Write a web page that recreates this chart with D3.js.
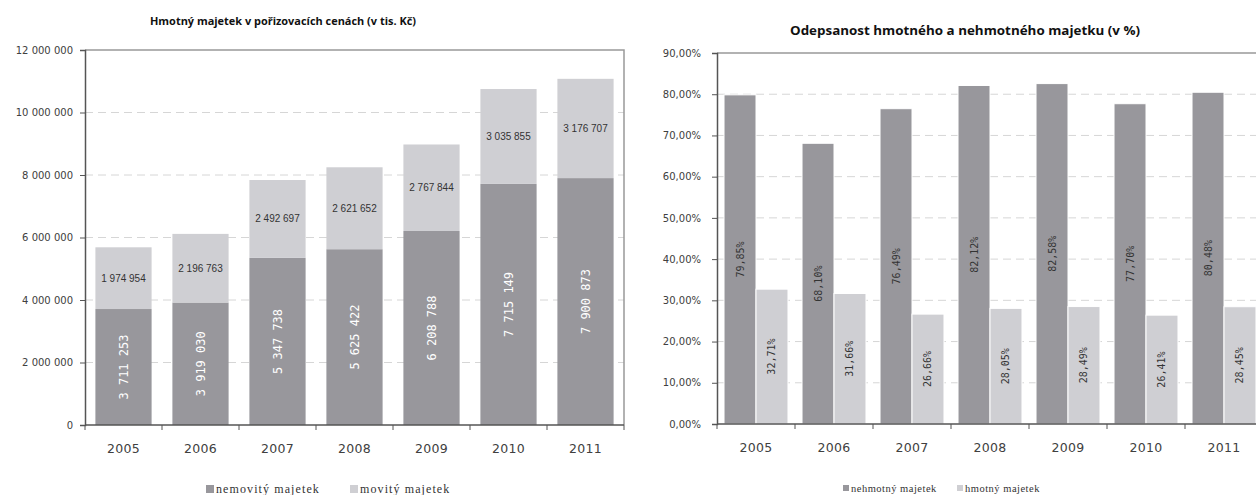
<!DOCTYPE html>
<html lang="cs">
<head>
<meta charset="UTF-8">
<title>Hmotný majetek a odepsanost</title>
<script src="https://d3js.org/d3.v7.min.js"></script>
<style>
  body { margin: 0; background: #fff; }
  .title { font-family: "Open Sans", sans-serif; font-weight: bold; fill: #111; }
  .tick text { font-family: "DejaVu Sans", sans-serif; fill: #404040; }
  .legend { font-family: "Liberation Serif", serif; fill: #333; }
</style>
</head>
<body>
<svg width="1256" height="495"></svg>
<script>
// data
const years = ["2005", "2006", "2007", "2008", "2009", "2010", "2011"];
const nemovity = [3711253, 3919030, 5347738, 5625422, 6208788, 7715149, 7900873];
const movity = [1974954, 2196763, 2492697, 2621652, 2767844, 3035855, 3176707];
const nehmotny = [79.85, 68.10, 76.49, 82.12, 82.58, 77.70, 80.48];
const hmotny = [32.71, 31.66, 26.66, 28.05, 28.49, 26.41, 28.45];
const leftTicks = [0, 2000000, 4000000, 6000000, 8000000, 10000000, 12000000];
const rightTicks = [0, 10, 20, 30, 40, 50, 60, 70, 80, 90];

const dark = "#98979c", light = "#cfcfd3";
const cz = d3.formatLocale({ decimal: ",", thousands: " ", grouping: [3], currency: ["", ""] });
const fmtNum = cz.format(",");
const fmtPct = d => cz.format(".2f")(d) + "%";

const svg = d3.select("svg");

// ---------- left chart: stacked bars ----------
const L = { left: 85, right: 624, top: 50, bottom: 425 };
const x1 = d3.scaleBand().domain(years).range([L.left, L.right]).paddingInner(0.27).paddingOuter(0.135);
const y1 = d3.scaleLinear().domain([0, 12000000]).range([L.bottom, L.top]);

const g1 = svg.append("g");

g1.append("text").attr("class", "title")
  .attr("x", 283).attr("y", 25)
  .attr("text-anchor", "middle")
  .style("font-size", "11px")
  .attr("textLength", 266).attr("lengthAdjust", "spacingAndGlyphs")
  .text("Hmotný majetek v pořizovacích cenách (v tis. Kč)");

g1.selectAll(".grid").data(leftTicks.slice(1, -1)).enter().append("line")
  .attr("x1", L.left).attr("x2", L.right)
  .attr("y1", d => y1(d)).attr("y2", d => y1(d))
  .attr("stroke", "#d6d6d6").attr("stroke-dasharray", "8,5");

// plot frame top/right
g1.append("path")
  .attr("d", `M${L.left},${L.top}H${L.right}V${L.bottom}`)
  .attr("fill", "none").attr("stroke", "#999").attr("stroke-width", 1.5);

const rows = years.map((y, i) => ({ year: y, nemovity: nemovity[i], movity: movity[i] }));
const stack = d3.stack().keys(["nemovity", "movity"])(rows);
const colors = { nemovity: dark, movity: light };

stack.forEach(layer => {
  g1.selectAll(".bar-" + layer.key).data(layer).enter().append("rect")
    .attr("x", d => x1(d.data.year))
    .attr("y", d => y1(d[1]))
    .attr("width", x1.bandwidth())
    .attr("height", d => y1(d[0]) - y1(d[1]))
    .attr("fill", colors[layer.key]);
});

// labels in dark segments (rotated, white)
g1.selectAll(".lblDark").data(stack[0]).enter().append("text")
  .attr("transform", d => `translate(${x1(d.data.year) + x1.bandwidth() / 2},${(y1(d[0]) + y1(d[1])) / 2}) rotate(-90)`)
  .attr("text-anchor", "middle").attr("dy", "0.35em")
  .style("font-family", "'DejaVu Sans Mono', monospace").style("font-size", "12px")
  .attr("fill", "#fff")
  .text(d => fmtNum(d.data.nemovity));

// labels in light segments
g1.selectAll(".lblLight").data(stack[1]).enter().append("text")
  .attr("x", d => x1(d.data.year) + x1.bandwidth() / 2)
  .attr("y", d => (y1(d[0]) + y1(d[1])) / 2)
  .attr("text-anchor", "middle").attr("dy", "0.35em")
  .style("font-family", "'Liberation Sans', Arial, sans-serif").style("font-size", "10px")
  .attr("fill", "#333")
  .text(d => fmtNum(d.data.movity));

const ax1 = g1.append("g").attr("transform", `translate(${L.left},0)`)
  .call(d3.axisLeft(y1).tickValues(leftTicks).tickSize(5).tickPadding(7).tickFormat(fmtNum));
ax1.selectAll("text").style("font-size", "10px");
ax1.select(".domain").attr("stroke", "#555").attr("stroke-width", 1.5);
ax1.selectAll(".tick line").attr("stroke", "#555");

function bottomAxis(g, x, yPos, right) {
  const b = g.append("g").attr("transform", `translate(0,${yPos})`)
    .call(d3.axisBottom(x).tickSize(0).tickPadding(19));
  b.selectAll("text").style("font-size", "12.5px").style("letter-spacing", "0.3px");
  b.select(".domain").attr("d", `M${x.range()[0]},0H${right}`).attr("stroke", "#555").attr("stroke-width", 1.5);
  const half = x.step() * x.paddingInner() / 2;
  const bounds = x.domain().map(d => x(d) - half).concat([x(x.domain()[x.domain().length - 1]) + x.bandwidth() + half]);
  b.selectAll(".btick").data(bounds).enter().append("line")
    .attr("x1", d => d).attr("x2", d => d).attr("y1", 0).attr("y2", 5)
    .attr("stroke", "#555");
}
bottomAxis(g1, x1, L.bottom, L.right);

// legend left
const legL = [{ name: "nemovitý majetek", c: dark, x: 206 }, { name: "movitý majetek", c: light, x: 350 }];
legL.forEach(d => {
  g1.append("rect").attr("x", d.x).attr("y", 485).attr("width", 8).attr("height", 8).attr("fill", d.c);
  g1.append("text").attr("class", "legend").attr("x", d.x + 10).attr("y", 493)
    .style("font-size", "12px").style("letter-spacing", "1.1px").text(d.name);
});

// ---------- right chart: grouped bars ----------
const R = { left: 717, right: 717 + 7 * 78, top: 53, bottom: 424 };
const x2 = d3.scaleBand().domain(years).range([R.left, R.right]).paddingInner(0.18).paddingOuter(0.09);
const sub = d3.scaleBand().domain(["nehmotny", "hmotny"]).range([0, x2.bandwidth()]);
const y2 = d3.scaleLinear().domain([0, 90]).range([R.bottom, R.top]);

const g2 = svg.append("g");

g2.append("text").attr("class", "title")
  .attr("x", 965).attr("y", 35)
  .attr("text-anchor", "middle")
  .style("font-size", "13px")
  .attr("textLength", 350).attr("lengthAdjust", "spacingAndGlyphs")
  .text("Odepsanost hmotného a nehmotného majetku (v %)");

g2.selectAll(".grid").data(rightTicks.slice(1, -1)).enter().append("line")
  .attr("x1", R.left).attr("x2", R.right)
  .attr("y1", d => y2(d)).attr("y2", d => y2(d))
  .attr("stroke", "#d6d6d6").attr("stroke-dasharray", "8,5");

g2.append("line")
  .attr("x1", R.left).attr("x2", R.right).attr("y1", R.top).attr("y2", R.top)
  .attr("stroke", "#999").attr("stroke-width", 1.5);

const rows2 = years.map((y, i) => ({ year: y, nehmotny: nehmotny[i], hmotny: hmotny[i] }));
const cols2 = { nehmotny: dark, hmotny: light };

const grp = g2.selectAll(".grp").data(rows2).enter().append("g")
  .attr("transform", d => `translate(${x2(d.year)},0)`);

grp.selectAll("rect").data(d => ["nehmotny", "hmotny"].map(k => ({ key: k, v: d[k] }))).enter().append("rect")
  .attr("x", d => sub(d.key))
  .attr("y", d => y2(d.v))
  .attr("width", sub.bandwidth())
  .attr("height", d => y2(0) - y2(d.v))
  .attr("fill", d => cols2[d.key])
  .attr("stroke", "#fff").attr("stroke-width", 1);

grp.selectAll("text").data(d => ["nehmotny", "hmotny"].map(k => ({ key: k, v: d[k] }))).enter().append("text")
  .attr("transform", d => `translate(${sub(d.key) + sub.bandwidth() / 2},${(y2(0) + y2(d.v)) / 2}) rotate(-90)`)
  .attr("text-anchor", "middle").attr("dy", "0.35em")
  .style("font-family", "'DejaVu Sans Mono', monospace").style("font-size", "10px")
  .attr("fill", "#333")
  .text(d => fmtPct(d.v));

const ax2 = g2.append("g").attr("transform", `translate(${R.left},0)`)
  .call(d3.axisLeft(y2).tickValues(rightTicks).tickSize(5).tickPadding(11).tickFormat(fmtPct));
ax2.selectAll("text").style("font-size", "10px");
ax2.select(".domain").attr("stroke", "#555").attr("stroke-width", 1.5);
ax2.selectAll(".tick line").attr("stroke", "#555");

bottomAxis(g2, x2, R.bottom, R.right);

const legR = [{ name: "nehmotný majetek", c: dark, x: 843 }, { name: "hmotný majetek", c: light, x: 957 }];
legR.forEach(d => {
  g2.append("rect").attr("x", d.x).attr("y", 485).attr("width", 6).attr("height", 6).attr("fill", d.c);
  g2.append("text").attr("class", "legend").attr("x", d.x + 8).attr("y", 492)
    .style("font-size", "10.5px").style("letter-spacing", "0.5px").text(d.name);
});
</script>
</body>
</html>
